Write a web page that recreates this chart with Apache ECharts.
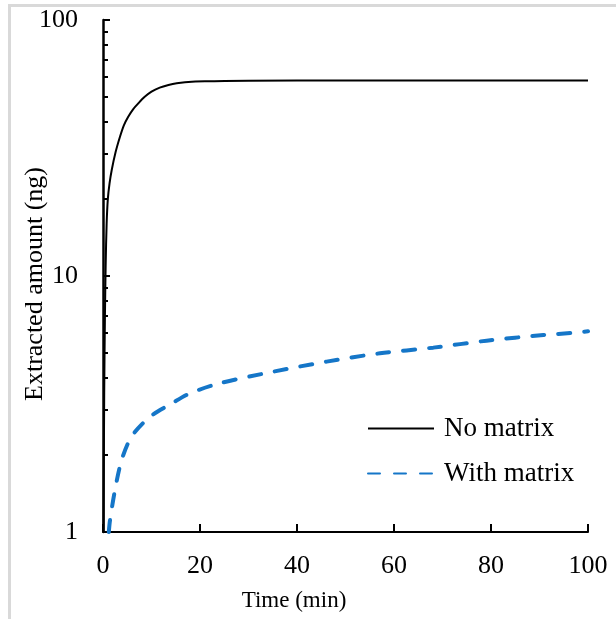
<!DOCTYPE html>
<html>
<head>
<meta charset="utf-8">
<script src="https://cdn.jsdelivr.net/npm/echarts@6/dist/echarts.min.js"></script>
<style>
html,body{margin:0;padding:0;background:#fff;}
#chart{width:616px;height:619px;}
</style>
</head>
<body>
<div id="chart"></div>
<script>
// ---- data ----
const timeNoMatrix = [0.1, 0.25, 0.4, 0.55, 0.75, 1.0, 1.35, 1.79, 2.6, 3.5, 4.3, 5.2, 6.2, 7.3, 8.6, 10.0, 11.7, 13.5, 15.2, 16.9, 21, 30, 50, 100];
const valNoMatrix  = [1, 3.5, 7, 11, 16, 20, 23, 25.9, 30.5, 35, 38.8, 41.9, 44.8, 47.3, 50.1, 52.5, 54.4, 55.7, 56.6, 57.1, 57.6, 57.9, 58, 58];
const timeWithMatrix = [1.2, 1.44, 2.47, 3.85, 5.9, 9.7, 14.2, 17.9, 24.1, 35.1, 46.1, 57.1, 68.1, 79.1, 90.8, 97, 100];
const valWithMatrix  = [1.0, 1.11, 1.46, 1.91, 2.36, 2.82, 3.18, 3.48, 3.81, 4.23, 4.63, 4.99, 5.25, 5.59, 5.88, 6.0, 6.08];
const seriesNames = ['No matrix', 'With matrix'];
const xTicks = [0, 20, 40, 60, 80, 100];
const yMajorTicks = [1, 10, 100];
const yMinorTicks = [2, 3, 4, 5, 6, 7, 8, 9, 20, 30, 40, 50, 60, 70, 80, 90];
const xName = 'Time (min)';
const yName = 'Extracted amount (ng)';

const pairs = (xs, ys) => xs.map((x, i) => [x, ys[i]]);
const FONT = '"Liberation Serif", "Times New Roman", serif';

const chart = echarts.init(document.getElementById('chart'), null, {renderer: 'canvas'});
chart.setOption({
  animation: false,
  backgroundColor: '#fff',
  textStyle: {fontFamily: FONT},
  graphic: [
    {type: 'rect', shape: {x: 8, y: 4, width: 608, height: 3}, style: {fill: '#d9d9d9'}, silent: true},
    {type: 'rect', shape: {x: 8, y: 4, width: 3, height: 615}, style: {fill: '#d9d9d9'}, silent: true}
  ],
  grid: {left: 103, right: 28, top: 20, bottom: 87, containLabel: false, outerBoundsMode: 'none'},
  legend: {
    orient: 'vertical',
    left: 362,
    top: 410,
    itemWidth: 66,
    itemHeight: 16,
    itemGap: 18,
    data: seriesNames,
    itemStyle: {opacity: 0},
    textStyle: {fontFamily: FONT, fontSize: 27, color: '#000', padding: [0, 0, 0, 5]}
  },
  xAxis: {
    type: 'value',
    min: 0, max: 100, interval: 20,
    name: xName,
    nameLocation: 'middle',
    nameGap: 57,
    nameMoveOverlap: false,
    nameTextStyle: {fontFamily: FONT, fontSize: 23, color: '#000', padding: [0, 103, 0, 0]},
    axisLine: {show: true, onZero: false, lineStyle: {color: '#000', width: 2}},
    axisTick: {show: true, inside: true, length: 8, lineStyle: {color: '#000', width: 2}, customValues: xTicks},
    axisLabel: {fontFamily: FONT, fontSize: 26, color: '#000', margin: 21, customValues: xTicks},
    splitLine: {show: false}
  },
  yAxis: [
    {
      type: 'log', logBase: 10, min: 1, max: 100,
      name: yName,
      nameLocation: 'middle',
      nameGap: 55,
      nameRotate: 90,
      nameMoveOverlap: false,
      nameTextStyle: {fontFamily: FONT, fontSize: 26, color: '#000', padding: [0, 16, 0, 0]},
      axisLine: {show: true, onZero: false, lineStyle: {color: '#000', width: 2.5}},
      axisTick: {show: true, inside: true, length: 7, lineStyle: {color: '#000', width: 2}, customValues: yMajorTicks},
      axisLabel: {fontFamily: FONT, fontSize: 26, color: '#000', margin: 25, customValues: yMajorTicks},
      splitLine: {show: false},
      minorTick: {show: false}
    },
    {
      type: 'log', logBase: 10, min: 1, max: 100,
      position: 'left',
      axisLine: {show: false},
      axisTick: {show: true, inside: true, length: 5, lineStyle: {color: '#000', width: 2}, customValues: yMinorTicks},
      axisLabel: {show: false},
      splitLine: {show: false}
    }
  ],
  series: [
    {
      name: seriesNames[0],
      type: 'line',
      data: pairs(timeNoMatrix, valNoMatrix),
      smooth: 0.3,
      showSymbol: false,
      symbol: 'none',
      clip: true,
      lineStyle: {color: '#000', width: 2},
      itemStyle: {color: '#000'}
    },
    {
      name: seriesNames[1],
      type: 'line',
      data: pairs(timeWithMatrix, valWithMatrix),
      smooth: 0.3,
      showSymbol: false,
      symbol: 'none',
      clip: true,
      lineStyle: {color: '#1576C8', width: 4, type: [12, 14], cap: 'round'},
      itemStyle: {color: '#1576C8'}
    }
  ]
});
</script>
</body>
</html>
